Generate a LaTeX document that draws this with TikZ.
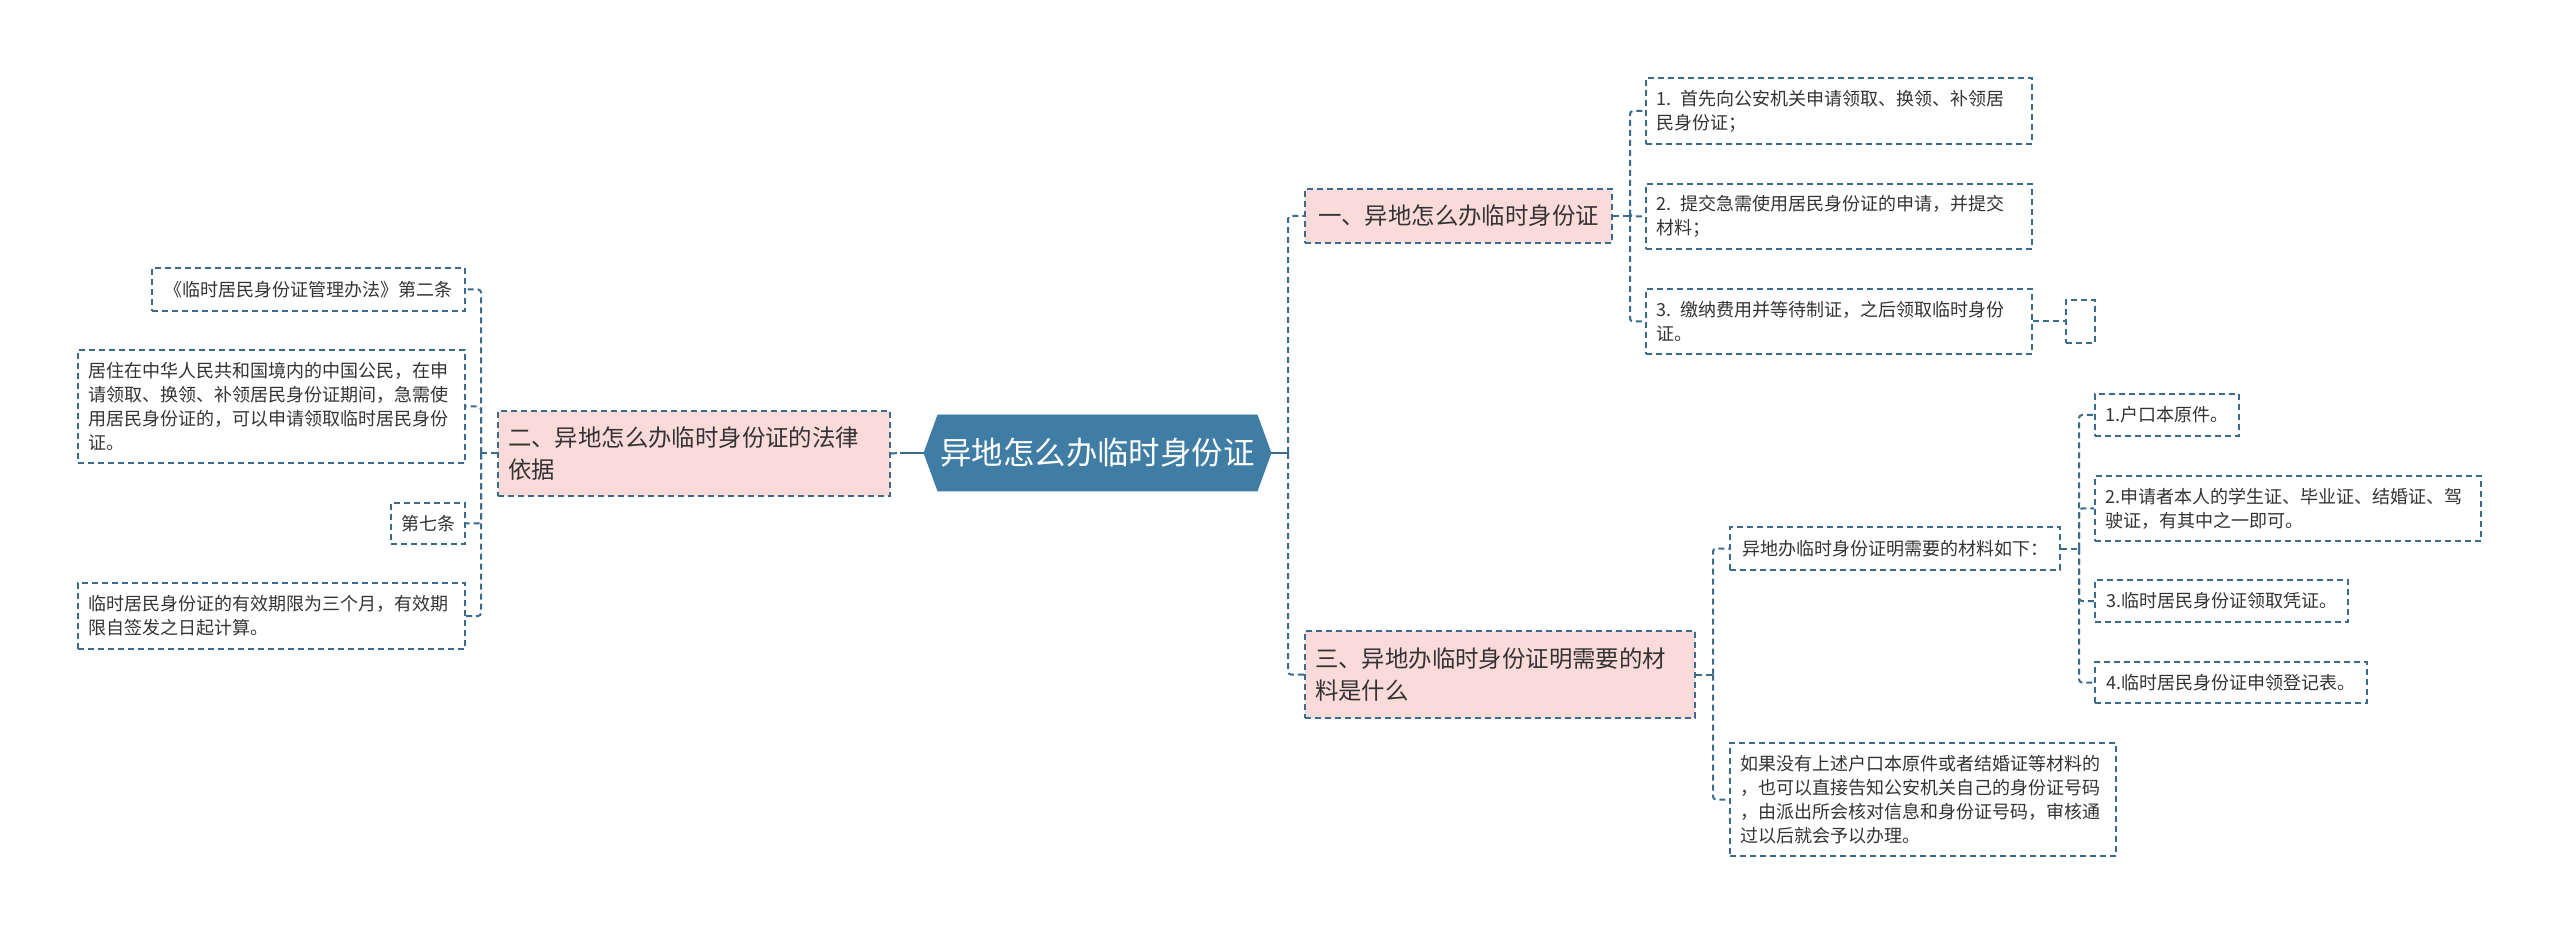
\documentclass[tikz,border=0pt]{standalone}
\usepackage{fontspec}
\setmainfont{Noto Sans CJK SC}
\usetikzlibrary{shapes.symbols}
\definecolor{linkblue}{HTML}{3A6B8C}
\definecolor{rootblue}{HTML}{3F7DA5}
\definecolor{branchpink}{HTML}{FBDADA}
\definecolor{textgray}{HTML}{333333}

\begin{document}
\begin{tikzpicture}[x=0.5pt,y=-0.5pt,
    link/.style={draw=linkblue,line width=1pt,dash pattern=on 3pt off 2pt,rounded corners=1.5pt},
    stub/.style={draw=linkblue,line width=1.2pt},
    box/.style={draw=linkblue,line width=1pt,dash pattern=on 3pt off 2pt,text=textgray,
        font=\fontsize{9}{12}\selectfont,inner xsep=5pt,inner ysep=3pt,align=left},
    branch/.style={box,fill=branchpink,font=\fontsize{11.7}{16}\selectfont},
    root/.style={shape=signal,signal to=west and east,signal pointer angle=140,
        fill=rootblue,draw=rootblue,text=white,font=\fontsize{15.7}{18}\selectfont,inner sep=0pt}]
    \useasboundingbox (0,0) rectangle (2560,935);
    % centre
    \node[root,minimum width=173.5pt,minimum height=38pt] (root) at (1097.5,453) {异地怎么办临时身份证};
    % left branch
    \node[branch,text width=186pt,minimum height=42.5pt] (b2) at (694,453.5)
        {二、异地怎么办临时身份证的法律\\依据};
    \node[box,minimum width=156.5pt,minimum height=21.5pt] (l1) at (308.5,289.5) {《临时居民身份证管理办法》第二条};
    \node[box,text width=183.5pt,minimum height=56.5pt] (l2) at (271.5,406.5)
        {居住在中华人民共和国境内的中国公民，在申\\请领取、换领、补领居民身份证期间，急需使\\用居民身份证的，可以申请领取临时居民身份\\证。};
    \node[box,minimum width=37pt,minimum height=20.5pt] (l3) at (428,523.5) {第七条};
    \node[box,text width=183.5pt,minimum height=33pt] (l4) at (271.5,616)
        {临时居民身份证的有效期限为三个月，有效期\\限自签发之日起计算。};
    % right branches
    \node[branch,minimum width=153.5pt,minimum height=27pt] (b1) at (1458.5,216) {一、异地怎么办临时身份证};
    \node[branch,text width=185pt,minimum height=43.5pt] (b3) at (1500,674.5)
        {三、异地办临时身份证明需要的材\\料是什么};
    \node[box,text width=183pt,minimum height=33pt] (r1) at (1839,111)
        {1. 首先向公安机关申请领取、换领、补领居\\民身份证；};
    \node[box,text width=183pt,minimum height=32.5pt] (r2) at (1839,216.5)
        {2. 提交急需使用居民身份证的申请，并提交\\材料；};
    \node[box,text width=183pt,minimum height=32.5pt] (r3) at (1839,321.5)
        {3. 缴纳费用并等待制证，之后领取临时身份\\证。};
    \node[box,minimum width=14.5pt,minimum height=21.5pt] (r4) at (2080.5,321.5) {};
    \node[box,minimum width=165pt,minimum height=21.5pt] (c1) at (1895,548.5) {异地办临时身份证明需要的材料如下：};
    \node[box,text width=183pt,minimum height=56.5pt] (c2) at (1923,799.5)
        {如果没有上述户口本原件或者结婚证等材料的\\，也可以直接告知公安机关自己的身份证号码\\，由派出所会核对信息和身份证号码，审核通\\过以后就会予以办理。};
    \node[box,minimum width=72pt,minimum height=21pt] (d1) at (2167,415) {1.户口本原件。};
    \node[box,text width=183pt,minimum height=32.5pt] (d2) at (2288,508.5)
        {2.申请者本人的学生证、毕业证、结婚证、驾\\驶证，有其中之一即可。};
    \node[box,minimum width=126.5pt,minimum height=21pt] (d3) at (2221.5,601) {3.临时居民身份证领取凭证。};
    \node[box,minimum width=136pt,minimum height=20.5pt] (d4) at (2231,682.5) {4.临时居民身份证申领登记表。};
    % connectors
    \coordinate (rtrunk) at (1288,453);
    \coordinate (lroot) at (900,453);
    \draw[stub] (root.east) -- (rtrunk);
    \foreach \c in {b1,b3} \draw[link] (rtrunk) |- (\c.west);
    \draw[link] (b2.east) -- (lroot);
    \draw[stub] (lroot) -- (root.west);
    \draw[link] (b2.west) -- ++(-16,0) coordinate (b2t);
    \foreach \c in {l1,l2,l3,l4} \draw[link] (b2t) |- (\c.east);
    \draw[link] (b1.east) -- ++(17,0) coordinate (b1t);
    \foreach \c in {r1,r2,r3} \draw[link] (b1t) |- (\c.west);
    \draw[link] (r3.east) -- (r4.west);
    \draw[link] (b3.east) -- ++(17,0) coordinate (b3t);
    \foreach \c in {c1,c2} \draw[link] (b3t) |- (\c.west);
    \draw[link] (c1.east) -- ++(18,0) coordinate (c1t);
    \foreach \c in {d1,d2,d3,d4} \draw[link] (c1t) |- (\c.west);
\end{tikzpicture}
\end{document}
